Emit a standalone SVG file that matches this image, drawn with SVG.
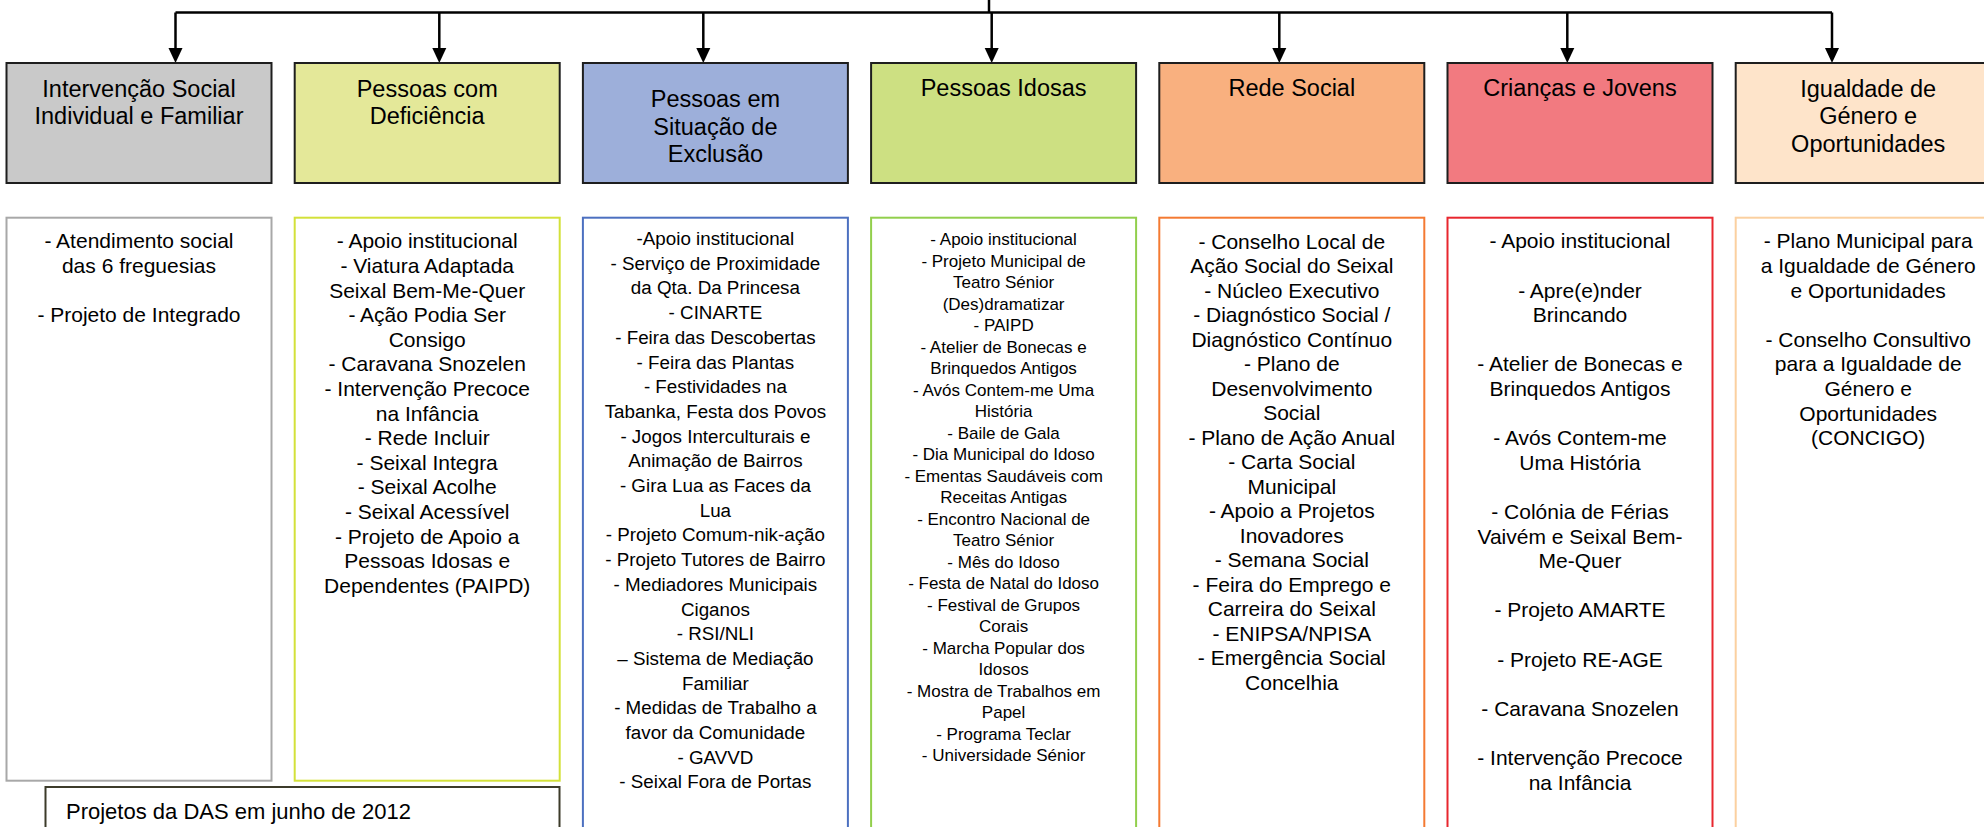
<svg xmlns="http://www.w3.org/2000/svg" width="1984" height="827" viewBox="0 0 1984 827">
<defs>
<style>
text{font-family:"Liberation Sans",Arial,sans-serif;fill:#000;text-anchor:middle}
.h{font-size:23.5px}
.l{font-size:21px}
.l3{font-size:18.8px}
.l4{font-size:17px}
.hb{stroke:#1e1e1e;stroke-width:2}
.lb{fill:#fff;stroke-width:2}
.conn{stroke:#000;stroke-width:2.5;fill:none}
</style>
<marker id="arr" markerWidth="14" markerHeight="15" refX="7" refY="15" orient="auto" markerUnits="userSpaceOnUse" viewBox="0 0 14 15">
<path d="M0,0 L14,0 L7,15 Z" fill="#000"/>
</marker>
</defs>
<rect width="1984" height="827" fill="#fff"/>

<g id="connectors">
<line class="conn" x1="989" y1="0" x2="989" y2="12.5"/>
<line class="conn" x1="175.5" y1="12.5" x2="1832" y2="12.5"/>
<path d="M0,0 L14,0 L7,15 Z" fill="#000" transform="translate(168.5,48)"/>
<line class="conn" x1="175.5" y1="12.5" x2="175.5" y2="49"/>
<path d="M0,0 L14,0 L7,15 Z" fill="#000" transform="translate(432.3,48)"/>
<line class="conn" x1="439.3" y1="12.5" x2="439.3" y2="49"/>
<path d="M0,0 L14,0 L7,15 Z" fill="#000" transform="translate(696.3,48)"/>
<line class="conn" x1="703.3" y1="12.5" x2="703.3" y2="49"/>
<path d="M0,0 L14,0 L7,15 Z" fill="#000" transform="translate(984.7,48)"/>
<line class="conn" x1="991.7" y1="12.5" x2="991.7" y2="49"/>
<path d="M0,0 L14,0 L7,15 Z" fill="#000" transform="translate(1272.3,48)"/>
<line class="conn" x1="1279.3" y1="12.5" x2="1279.3" y2="49"/>
<path d="M0,0 L14,0 L7,15 Z" fill="#000" transform="translate(1560.3,48)"/>
<line class="conn" x1="1567.3" y1="12.5" x2="1567.3" y2="49"/>
<path d="M0,0 L14,0 L7,15 Z" fill="#000" transform="translate(1825,48)"/>
<line class="conn" x1="1832" y1="12.5" x2="1832" y2="49"/>
</g>

<g id="node-h1">
<rect class="hb" x="6.5" y="63" width="265" height="120" fill="#c9c9c9"/>
<text class="h"><tspan x="139" y="97.3">Intervenção Social</tspan><tspan x="139" y="124.3">Individual e Familiar</tspan></text>
</g>
<g id="node-h2">
<rect class="hb" x="294.7" y="63" width="265" height="120" fill="#e4e899"/>
<text class="h"><tspan x="427.2" y="97.3">Pessoas com</tspan><tspan x="427.2" y="124.3">Deficiência</tspan></text>
</g>
<g id="node-h3">
<rect class="hb" x="582.9" y="63" width="265" height="120" fill="#9dafda"/>
<text class="h"><tspan x="715.4" y="107">Pessoas em</tspan><tspan x="715.4" y="134.5">Situação de</tspan><tspan x="715.4" y="162">Exclusão</tspan></text>
</g>
<g id="node-h4">
<rect class="hb" x="871.1" y="63" width="265" height="120" fill="#cde082"/>
<text class="h" x="1003.6" y="96">Pessoas Idosas</text>
</g>
<g id="node-h5">
<rect class="hb" x="1159.3" y="63" width="265" height="120" fill="#f9b07f"/>
<text class="h" x="1291.8" y="96">Rede Social</text>
</g>
<g id="node-h6">
<rect class="hb" x="1447.5" y="63" width="265" height="120" fill="#f27a80"/>
<text class="h" x="1580" y="96">Crianças e Jovens</text>
</g>
<g id="node-h7">
<rect class="hb" x="1735.7" y="63" width="265" height="120" fill="#fee4ca" stroke="#000" stroke-width="2.5"/>
<text class="h"><tspan x="1868.2" y="97">Igualdade de</tspan><tspan x="1868.2" y="124.3">Género e</tspan><tspan x="1868.2" y="151.6">Oportunidades</tspan></text>
</g>

<g id="node-l1">
<rect class="lb" x="6.5" y="217.7" width="265" height="563" stroke="#a8a8a8"/>
<text class="l"><tspan x="139" y="248.3">- Atendimento social</tspan><tspan x="139" dy="24.6">das 6 freguesias</tspan><tspan x="139" dy="49.2">- Projeto de Integrado</tspan></text>
</g>
<g id="node-l2">
<rect class="lb" x="294.7" y="217.7" width="265" height="563" stroke="#d3e13a"/>
<text class="l"><tspan x="427.2" y="248.3">- Apoio institucional</tspan><tspan x="427.2" dy="24.6">- Viatura Adaptada</tspan><tspan x="427.2" dy="24.6">Seixal Bem-Me-Quer</tspan><tspan x="427.2" dy="24.6">- Ação Podia Ser</tspan><tspan x="427.2" dy="24.6">Consigo</tspan><tspan x="427.2" dy="24.6">- Caravana Snozelen</tspan><tspan x="427.2" dy="24.6">- Intervenção Precoce</tspan><tspan x="427.2" dy="24.6">na Infância</tspan><tspan x="427.2" dy="24.6">- Rede Incluir</tspan><tspan x="427.2" dy="24.6">- Seixal Integra</tspan><tspan x="427.2" dy="24.6">- Seixal Acolhe</tspan><tspan x="427.2" dy="24.6">- Seixal Acessível</tspan><tspan x="427.2" dy="24.6">- Projeto de Apoio a</tspan><tspan x="427.2" dy="24.6">Pessoas Idosas e</tspan><tspan x="427.2" dy="24.6">Dependentes (PAIPD)</tspan></text>
</g>
<g id="node-l3">
<rect class="lb" x="582.9" y="217.7" width="265" height="640" stroke="#4c70c0"/>
<text class="l3"><tspan x="715.4" y="245">-Apoio institucional</tspan><tspan x="715.4" dy="24.7">- Serviço de Proximidade</tspan><tspan x="715.4" dy="24.7">da Qta. Da Princesa</tspan><tspan x="715.4" dy="24.7">- CINARTE</tspan><tspan x="715.4" dy="24.7">- Feira das Descobertas</tspan><tspan x="715.4" dy="24.7">- Feira das Plantas</tspan><tspan x="715.4" dy="24.7">- Festividades na</tspan><tspan x="715.4" dy="24.7">Tabanka, Festa dos Povos</tspan><tspan x="715.4" dy="24.7">- Jogos Interculturais e</tspan><tspan x="715.4" dy="24.7">Animação de Bairros</tspan><tspan x="715.4" dy="24.7">- Gira Lua as Faces da</tspan><tspan x="715.4" dy="24.7">Lua</tspan><tspan x="715.4" dy="24.7">- Projeto Comum-nik-ação</tspan><tspan x="715.4" dy="24.7">- Projeto Tutores de Bairro</tspan><tspan x="715.4" dy="24.7">- Mediadores Municipais</tspan><tspan x="715.4" dy="24.7">Ciganos</tspan><tspan x="715.4" dy="24.7">- RSI/NLI</tspan><tspan x="715.4" dy="24.7">– Sistema de Mediação</tspan><tspan x="715.4" dy="24.7">Familiar</tspan><tspan x="715.4" dy="24.7">- Medidas de Trabalho a</tspan><tspan x="715.4" dy="24.7">favor da Comunidade</tspan><tspan x="715.4" dy="24.7">- GAVVD</tspan><tspan x="715.4" dy="24.7">- Seixal Fora de Portas</tspan></text>
</g>
<g id="node-l4">
<rect class="lb" x="871.1" y="217.7" width="265" height="640" stroke="#92cf4c"/>
<text class="l4"><tspan x="1003.6" y="245">- Apoio institucional</tspan><tspan x="1003.6" dy="21.5">- Projeto Municipal de</tspan><tspan x="1003.6" dy="21.5">Teatro Sénior</tspan><tspan x="1003.6" dy="21.5">(Des)dramatizar</tspan><tspan x="1003.6" dy="21.5">- PAIPD</tspan><tspan x="1003.6" dy="21.5">- Atelier de Bonecas e</tspan><tspan x="1003.6" dy="21.5">Brinquedos Antigos</tspan><tspan x="1003.6" dy="21.5">- Avós Contem-me Uma</tspan><tspan x="1003.6" dy="21.5">História</tspan><tspan x="1003.6" dy="21.5">- Baile de Gala</tspan><tspan x="1003.6" dy="21.5">- Dia Municipal do Idoso</tspan><tspan x="1003.6" dy="21.5">- Ementas Saudáveis com</tspan><tspan x="1003.6" dy="21.5">Receitas Antigas</tspan><tspan x="1003.6" dy="21.5">- Encontro Nacional de</tspan><tspan x="1003.6" dy="21.5">Teatro Sénior</tspan><tspan x="1003.6" dy="21.5">- Mês do Idoso</tspan><tspan x="1003.6" dy="21.5">- Festa de Natal do Idoso</tspan><tspan x="1003.6" dy="21.5">- Festival de Grupos</tspan><tspan x="1003.6" dy="21.5">Corais</tspan><tspan x="1003.6" dy="21.5">- Marcha Popular dos</tspan><tspan x="1003.6" dy="21.5">Idosos</tspan><tspan x="1003.6" dy="21.5">- Mostra de Trabalhos em</tspan><tspan x="1003.6" dy="21.5">Papel</tspan><tspan x="1003.6" dy="21.5">- Programa Teclar</tspan><tspan x="1003.6" dy="21.5">- Universidade Sénior</tspan></text>
</g>
<g id="node-l5">
<rect class="lb" x="1159.3" y="217.7" width="265" height="640" stroke="#f47a32"/>
<text class="l"><tspan x="1291.8" y="248.5">- Conselho Local de</tspan><tspan x="1291.8" dy="24.5">Ação Social do Seixal</tspan><tspan x="1291.8" dy="24.5">- Núcleo Executivo</tspan><tspan x="1291.8" dy="24.5">- Diagnóstico Social /</tspan><tspan x="1291.8" dy="24.5">Diagnóstico Contínuo</tspan><tspan x="1291.8" dy="24.5">- Plano de</tspan><tspan x="1291.8" dy="24.5">Desenvolvimento</tspan><tspan x="1291.8" dy="24.5">Social</tspan><tspan x="1291.8" dy="24.5">- Plano de Ação Anual</tspan><tspan x="1291.8" dy="24.5">- Carta Social</tspan><tspan x="1291.8" dy="24.5">Municipal</tspan><tspan x="1291.8" dy="24.5">- Apoio a Projetos</tspan><tspan x="1291.8" dy="24.5">Inovadores</tspan><tspan x="1291.8" dy="24.5">- Semana Social</tspan><tspan x="1291.8" dy="24.5">- Feira do Emprego e</tspan><tspan x="1291.8" dy="24.5">Carreira do Seixal</tspan><tspan x="1291.8" dy="24.5">- ENIPSA/NPISA</tspan><tspan x="1291.8" dy="24.5">- Emergência Social</tspan><tspan x="1291.8" dy="24.5">Concelhia</tspan></text>
</g>
<g id="node-l6">
<rect class="lb" x="1447.5" y="217.7" width="265" height="640" stroke="#e8262e"/>
<text class="l"><tspan x="1580" y="248.3">- Apoio institucional</tspan><tspan x="1580" dy="49.2">- Apre(e)nder</tspan><tspan x="1580" dy="24.6">Brincando</tspan><tspan x="1580" dy="49.2">- Atelier de Bonecas e</tspan><tspan x="1580" dy="24.6">Brinquedos Antigos</tspan><tspan x="1580" dy="49.2">- Avós Contem-me</tspan><tspan x="1580" dy="24.6">Uma História</tspan><tspan x="1580" dy="49.2">- Colónia de Férias</tspan><tspan x="1580" dy="24.6">Vaivém e Seixal Bem-</tspan><tspan x="1580" dy="24.6">Me-Quer</tspan><tspan x="1580" dy="49.2">- Projeto AMARTE</tspan><tspan x="1580" dy="49.2">- Projeto RE-AGE</tspan><tspan x="1580" dy="49.2">- Caravana Snozelen</tspan><tspan x="1580" dy="49.2">- Intervenção Precoce</tspan><tspan x="1580" dy="24.6">na Infância</tspan></text>
</g>
<g id="node-l7">
<rect class="lb" x="1735.7" y="217.7" width="265" height="640" stroke="#fbd0a0"/>
<text class="l"><tspan x="1868.2" y="248.3">- Plano Municipal para</tspan><tspan x="1868.2" dy="24.6">a Igualdade de Género</tspan><tspan x="1868.2" dy="24.6">e Oportunidades</tspan><tspan x="1868.2" dy="49.2">- Conselho Consultivo</tspan><tspan x="1868.2" dy="24.6">para a Igualdade de</tspan><tspan x="1868.2" dy="24.6">Género e</tspan><tspan x="1868.2" dy="24.6">Oportunidades</tspan><tspan x="1868.2" dy="24.6">(CONCIGO)</tspan></text>
</g>

<g id="legend">
<rect x="45.5" y="787" width="514" height="70" fill="#fff" stroke="#3c3b2a" stroke-width="2"/>
<text x="66" y="819" style="text-anchor:start;font-size:22px">Projetos da DAS em junho de 2012</text>
</g>
</svg>
